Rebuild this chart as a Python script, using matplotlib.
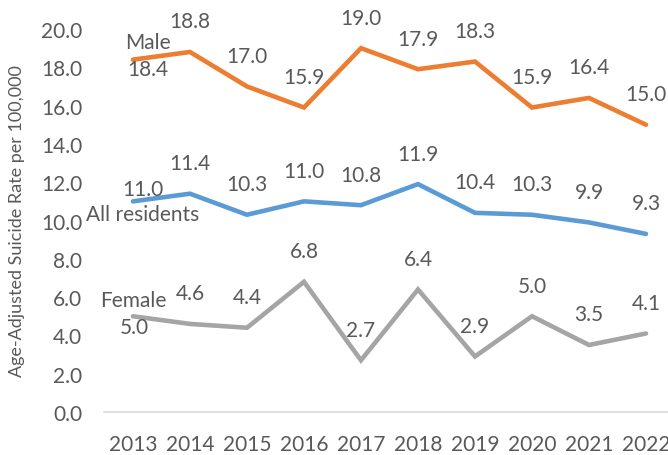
import matplotlib.pyplot as plt

years = [2013, 2014, 2015, 2016, 2017, 2018, 2019, 2020, 2021, 2022]
male = [18.4, 18.8, 17.0, 15.9, 19.0, 17.9, 18.3, 15.9, 16.4, 15.0]
all_residents = [11.0, 11.4, 10.3, 11.0, 10.8, 11.9, 10.4, 10.3, 9.9, 9.3]
female = [5.0, 4.6, 4.4, 6.8, 2.7, 6.4, 2.9, 5.0, 3.5, 4.1]

text_color = '#595959'
fs = 15
plt.rcParams['font.family'] = ['Lato', 'DejaVu Sans']

fig = plt.figure(figsize=(6.68, 4.56), dpi=100)
ax = fig.add_axes([0.1564, 0.0943, 0.8533, 0.8399])

x = list(range(len(years)))
series = [
    (male, '#ED7D31', 'Male'),
    (all_residents, '#5B9BD5', 'All residents'),
    (female, '#A5A5A5', 'Female'),
]

for values, color, name in series:
    ax.plot(x, values, color=color, linewidth=3.3, solid_capstyle='round',
            solid_joinstyle='miter')
    for i, v in enumerate(values):
        if i == 0:
            continue
        ax.annotate('{:.1f}'.format(v), (i, v), xytext=(0, 22),
                    textcoords='offset points', ha='center', va='center',
                    fontsize=fs, color=text_color)

# first-point labels placed by hand like the original
def label(text, y, dx, dy):
    ax.annotate(text, (0, y), xytext=(dx, dy), textcoords='offset points',
                ha='center', va='center', fontsize=fs, color=text_color)

label('{:.1f}'.format(male[0]), male[0], 11, -7)
label('Male', male[0], 11, 13)
label('{:.1f}'.format(all_residents[0]), all_residents[0], 7, 9)
label('All residents', all_residents[0], 7, -9)
label('{:.1f}'.format(female[0]), female[0], 1, -8)
label('Female', female[0], 0, 12)

ax.set_xlim(-0.5, len(years) - 0.5)
ax.set_ylim(0, 20)
ax.set_yticks([i * 2 for i in range(11)])
ax.set_yticklabels(['{:.1f}'.format(i * 2) for i in range(11)])
ax.set_xticks(x)
ax.set_xticklabels([str(y) for y in years])
ax.tick_params(axis='both', length=0, labelsize=fs, colors=text_color)
ax.tick_params(axis='y', pad=16)
ax.tick_params(axis='x', pad=16)

for s in ['top', 'right', 'left']:
    ax.spines[s].set_visible(False)
ax.spines['bottom'].set_color('#D9D9D9')
ax.spines['bottom'].set_linewidth(1.2)

fig.text(0.026, 0.515, 'Age-Adjusted Suicide Rate per 100,000', rotation=90,
         ha='center', va='center', fontsize=13, color=text_color)

fig.savefig('out.png', dpi=100)
